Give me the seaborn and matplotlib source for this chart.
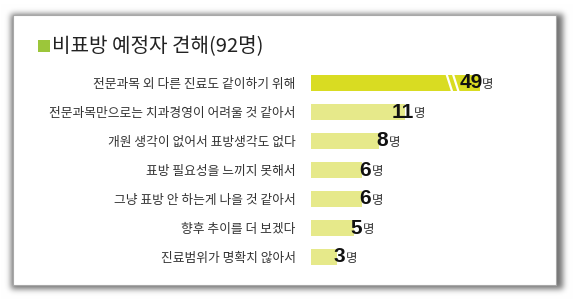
import matplotlib
matplotlib.use("Agg")
import matplotlib.pyplot as plt
from matplotlib.patches import Rectangle
from matplotlib.font_manager import FontProperties
import seaborn as sns
import pandas as pd
import numpy as np

title = "비표방 예정자 견해(92명)"
categories = [
    "전문과목 외 다른 진료도 같이하기 위해",
    "전문과목만으로는 치과경영이 어려울 것 같아서",
    "개원 생각이 없어서 표방생각도 없다",
    "표방 필요성을 느끼지 못해서",
    "그냥 표방 안 하는게 나을 것 같아서",
    "향후 추이를 더 보겠다",
    "진료범위가 명확치 않아서",
]
values = [49, 11, 8, 6, 6, 5, 3]
unit = "명"

sns.set_theme(style="white")
plt.rcParams["font.family"] = ["Noto Sans CJK KR", "DejaVu Sans"]

W, H = 580, 308
num_fp = FontProperties(family="Liberation Sans", weight="bold", size=15)

fig = plt.figure(figsize=(W / 100, H / 100), dpi=100, facecolor="white")

# background with blurred card shadow
bg = fig.add_axes([0, 0, 1, 1])
bg.set_xlim(0, W)
bg.set_ylim(H, 0)
bg.axis("off")
cx0, cy0, cx1, cy1 = 13, 15, 556, 285
mask = np.zeros((H, W))
mask[cy0 - 1:cy1 + 4, cx0 - 2:cx1 + 7] = 1.0
sig = 3.0
kx = np.arange(-10, 11)
kern = np.exp(-kx ** 2 / (2 * sig ** 2))
kern /= kern.sum()
mask = np.apply_along_axis(lambda r: np.convolve(r, kern, mode="same"), 1, mask)
mask = np.apply_along_axis(lambda c: np.convolve(c, kern, mode="same"), 0, mask)
shade = 1 - 0.55 * mask
img = np.dstack([shade, shade, shade])
bg.imshow(img, extent=(0, W, H, 0), zorder=0, interpolation="bilinear", aspect="auto")
bg.add_patch(Rectangle((cx0, cy0), cx1 - cx0, cy1 - cy0, facecolor="white",
                       edgecolor="#a8a8a8", linewidth=0.8, zorder=2))

# title
bg.add_patch(Rectangle((38, 40), 12, 12, facecolor="#9cc63a", edgecolor="none", zorder=3))
bg.text(52, 47, title, fontsize=14.5, color="#222222", va="center", ha="left", zorder=3)

# bar axes
x_left, x_right = 311, 480
k = 8.5
xmax = (x_right - x_left) / k
y_first, step = 83, 29
top = y_first - step / 2
bottom = y_first + step * 6.5
ax = fig.add_axes([x_left / W, 1 - bottom / H, (x_right - x_left) / W, (bottom - top) / H])
ax.patch.set_alpha(0)

df = pd.DataFrame({"cat": categories, "val": values})
colors = ["#d9dc22"] + ["#e6e98a"] * (len(values) - 1)
sns.barplot(data=df, x="val", y="cat", hue="cat", palette=colors, legend=False,
            width=0.58, ax=ax, saturation=1, edgecolor="none")
ax.set_xlim(0, xmax)
ax.set_ylim(len(values) - 0.5, -0.5)
ax.set_xlabel("")
ax.set_ylabel("")
ax.set_xticks([])
for s in ax.spines.values():
    s.set_visible(False)
ax.tick_params(axis="y", length=0, pad=11, labelsize=9.2, labelcolor="#333333")

# break marks on truncated bar
for i, v in enumerate(values):
    if v > xmax:
        for dx in (0.0, 0.75):
            xb = xmax - 3.6 + dx
            ax.plot([xb - 0.35, xb + 0.35], [i - 0.32, i + 0.32], color="white", lw=1.6,
                    solid_capstyle="butt", zorder=5)

# value numbers
anchors = []
for i, v in enumerate(values):
    xv = min(v, xmax)
    off = 9 if v <= xmax else 3
    ax.annotate(str(v), (xv, i), xytext=(off, 0), textcoords="offset pixels",
                ha="right", va="center", fontproperties=num_fp, color="#111111",
                annotation_clip=False, zorder=6)
    anchors.append(ax.transData.transform((xv, i)) + np.array([off, 0]))

# measure where each number's ink actually ends, then put the unit right after it
fig.canvas.draw()
buf = np.asarray(fig.canvas.buffer_rgba())[:, :, :3].astype(int)
for (axp, ayp) in anchors:
    row = int(round(H - ayp))
    c0 = int(axp) - 30
    c1 = int(axp) + 12
    region = buf[row - 7:row + 8, c0:c1]
    dark = (region < 110).all(axis=2).any(axis=0)
    cols = np.where(dark)[0]
    ink_right = c0 + cols.max() + 1 if len(cols) else axp
    fig.text((ink_right + 0.5) / W, (ayp - 1.5) / H, unit, ha="left", va="center",
             fontsize=9, color="#333333", zorder=6)

fig.savefig("out.png", dpi=100, facecolor="white")
